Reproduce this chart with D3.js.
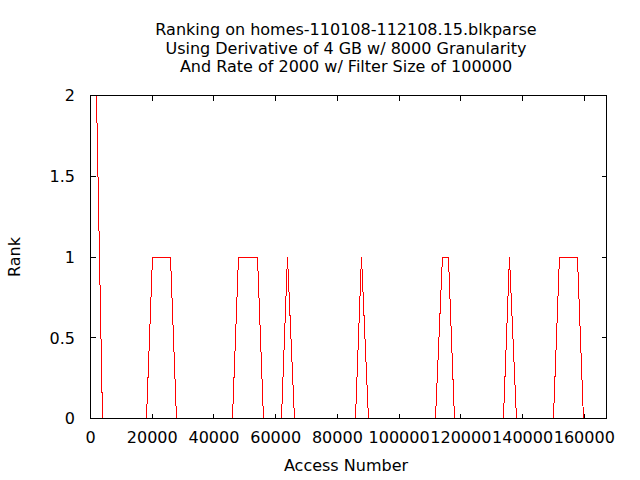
<!DOCTYPE html>
<html>
<head>
<meta charset="utf-8">
<script src="https://cdn.jsdelivr.net/npm/d3@7"></script>
<style>
  html, body { margin: 0; padding: 0; background: #fff; }
  svg { display: block; }
  text { font-family: "DejaVu Sans", sans-serif; font-size: 16px; fill: #000; }
</style>
</head>
<body>
<svg id="chart" width="640" height="480"></svg>
<script>
const titleLines = [
  "Ranking on homes-110108-112108.15.blkparse",
  "Using Derivative of 4 GB w/ 8000 Granularity",
  "And Rate of 2000 w/ Filter Size of 100000"
];
const xLabel = "Access Number";
const yLabel = "Rank";
const xTicks = [0, 20000, 40000, 60000, 80000, 100000, 120000, 140000, 160000];
const yTicks = [0, 0.5, 1, 1.5, 2];
const yTickLabels = ["0", "0.5", "1", "1.5", "2"];
const xDomain = [0, 167200];
const yDomain = [0, 2];

const accessNumber = [
  1944, 2268, 2592, 2916, 3240, 3564, 3888,
  18144, 18468, 18792, 19116, 19440, 19764, 20088,
  25920, 26244, 26568, 26892, 27216, 27540, 27864,
  46008, 46332, 46656, 46980, 47304, 47628, 47952,
  54108, 54432, 54756, 55080, 55404, 55728, 56052,
  61884, 62208, 62532, 62856, 63180, 63504, 63828,
  64152, 64476, 64800, 65124, 65448, 65772, 66096,
  85860, 86184, 86508, 86832, 87156, 87480, 87804,
  88128, 88452, 88776, 89100, 89424, 89748, 90072,
  111780, 112104, 112428, 112752, 113076, 113400, 113724, 114048,
  115992, 116316, 116640, 116964, 117288, 117612, 117936,
  133812, 134136, 134460, 134784, 135108, 135432, 135756,
  136080, 136404, 136728, 137052, 137376, 137700, 138024,
  150012, 150336, 150660, 150984, 151308, 151632, 151956,
  157788, 158112, 158436, 158760, 159084, 159408, 159732,
  167200
];
const rank = [
  2, 1.6667, 1.3333, 1, 0.6667, 0.3333, 0,
  0, 0.1667, 0.3333, 0.5, 0.6667, 0.8333, 1,
  1, 0.8333, 0.6667, 0.5, 0.3333, 0.1667, 0,
  0, 0.1667, 0.3333, 0.5, 0.6667, 0.8333, 1,
  1, 0.8333, 0.6667, 0.5, 0.3333, 0.1667, 0,
  0, 0.1667, 0.3333, 0.5, 0.6667, 0.8333, 1,
  0.8571, 0.7143, 0.5714, 0.4286, 0.2857, 0.1429, 0,
  0, 0.1667, 0.3333, 0.5, 0.6667, 0.8333, 1,
  0.8571, 0.7143, 0.5714, 0.4286, 0.2857, 0.1429, 0,
  0, 0.1429, 0.2857, 0.4286, 0.5714, 0.7143, 0.8571, 1,
  1, 0.8333, 0.6667, 0.5, 0.3333, 0.1667, 0,
  0, 0.1667, 0.3333, 0.5, 0.6667, 0.8333, 1,
  0.8571, 0.7143, 0.5714, 0.4286, 0.2857, 0.1429, 0,
  0, 0.1667, 0.3333, 0.5, 0.6667, 0.8333, 1,
  1, 0.8333, 0.6667, 0.5, 0.3333, 0.1667, 0,
  0
];

const svg = d3.select("#chart");
const L = 90, R = 606, T = 95, B = 418;
const x = d3.scaleLinear().domain(xDomain).range([L, R]);
const y = d3.scaleLinear().domain(yDomain).range([B, T]);
const tickLen = 5;

const g = svg.append("g").attr("transform", "translate(0.5,0.5)");

// data line
const pts = accessNumber.map((d, i) => [d, rank[i]]);
g.append("path")
  .datum(pts)
  .attr("d", d3.line().x(d => x(d[0])).y(d => y(d[1])))
  .attr("fill", "none")
  .attr("stroke", "#ff0000")
  .attr("stroke-width", 1)
  .attr("shape-rendering", "crispEdges");

// ticks (mirrored)
const tg = g.append("g").attr("stroke", "#000").attr("stroke-width", 1).attr("shape-rendering", "crispEdges");
xTicks.forEach(t => {
  tg.append("line").attr("x1", x(t)).attr("x2", x(t)).attr("y1", B).attr("y2", B - tickLen);
  tg.append("line").attr("x1", x(t)).attr("x2", x(t)).attr("y1", T).attr("y2", T + tickLen);
});
yTicks.forEach(t => {
  tg.append("line").attr("y1", y(t)).attr("y2", y(t)).attr("x1", L).attr("x2", L + tickLen);
  tg.append("line").attr("y1", y(t)).attr("y2", y(t)).attr("x1", R).attr("x2", R - tickLen);
});

// frame
g.append("rect")
  .attr("x", L).attr("y", T).attr("width", R - L).attr("height", B - T)
  .attr("fill", "none").attr("stroke", "#000").attr("stroke-width", 1)
  .attr("shape-rendering", "crispEdges");

// tick labels
svg.append("g").selectAll("text").data(xTicks).join("text")
  .attr("x", d => x(d) + 0.5)
  .attr("y", 443)
  .attr("text-anchor", "middle")
  .text(d => String(d));

svg.append("g").selectAll("text").data(yTicks).join("text")
  .attr("x", 75)
  .attr("y", d => y(d) + 0.5)
  .attr("dy", "0.36em")
  .attr("text-anchor", "end")
  .text((d, i) => yTickLabels[i]);

// axis labels
svg.append("text")
  .attr("x", 346).attr("y", 471)
  .attr("text-anchor", "middle")
  .text(xLabel);

svg.append("text")
  .attr("transform", "translate(20,257) rotate(-90)")
  .attr("text-anchor", "middle")
  .text(yLabel);

// title
svg.append("g").selectAll("text").data(titleLines).join("text")
  .attr("x", 346)
  .attr("y", (d, i) => 35 + i * 18.5)
  .attr("text-anchor", "middle")
  .text(d => d);
</script>
</body>
</html>
